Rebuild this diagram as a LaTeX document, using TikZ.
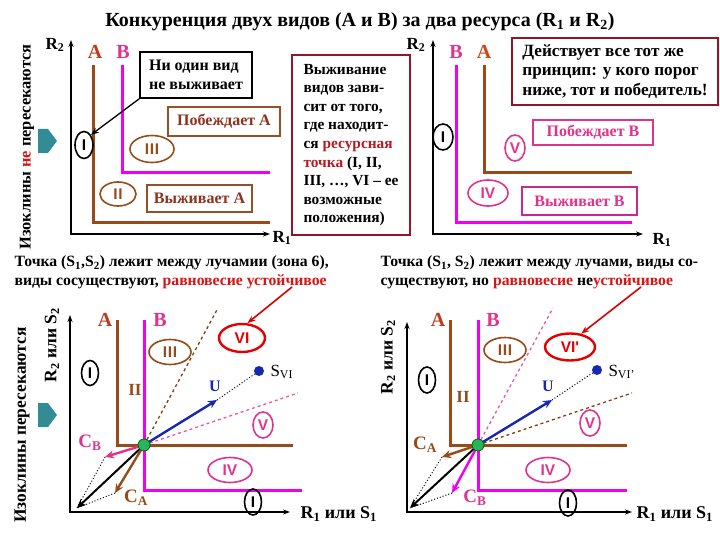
\documentclass[tikz,border=0pt]{standalone}
\usepackage{fontspec}
\setmainfont{Liberation Serif}
\newfontfamily\numfont{Liberation Sans}
\usetikzlibrary{arrows.meta,shapes.geometric}
\newcommand\myfs[2]{\fontsize{#1}{#2}\selectfont}
\newcommand\kI{\kern0.7pt}
\definecolor{isoA}{RGB}{150,75,25}
\definecolor{isoB}{RGB}{240,0,240}
\definecolor{labA}{RGB}{190,60,30}
\definecolor{labB}{RGB}{225,50,140}
\definecolor{darkred}{RGB}{150,20,40}
\definecolor{darkredtxt}{RGB}{185,25,35}
\definecolor{redtxt}{RGB}{215,20,20}
\definecolor{tealarrow}{RGB}{50,140,150}
\definecolor{blueU}{RGB}{20,40,180}
\definecolor{greendot}{RGB}{40,180,90}
\definecolor{boxbrown}{RGB}{150,80,40}
\definecolor{txtbrown}{RGB}{140,50,30}
\begin{document}
\begin{tikzpicture}[x=1pt,y=-1pt,
  axis/.style={line width=1.6pt,{Stealth[length=7pt,width=5pt]}-{Stealth[length=7pt,width=5pt]}},
  isoa/.style={isoA,line width=3pt},
  isob/.style={isoB,line width=3pt},
  zone/.style={ellipse,draw,line width=1.6pt,inner sep=0pt,font=\numfont\bfseries\myfs{15.5}{15}},
  tbox/.style={draw,rectangle,inner sep=0pt,align=left,font=\bfseries\myfs{16}{19}},
  biglab/.style={font=\bfseries\myfs{20}{20}},
  rlab/.style={font=\bfseries\myfs{17}{17}},
  captxt/.style={anchor=west,font=\bfseries\myfs{15.7}{17}},
  side/.style={rotate=90,font=\bfseries\myfs{16.4}{16}},
  thickarrow/.style={line width=2.4pt,-{Stealth[length=9pt,width=8pt]}},
  dotline/.style={black,line width=1pt,dotted},
  redarrow/.style={red!85!black,line width=1.6pt,-{Stealth[length=8pt,width=6pt]}},
  numtxt/.style={font=\bfseries\myfs{17}{17}}
]
\useasboundingbox (0,0) rectangle (720,540);

% title and side texts
\node[font=\bfseries\myfs{20}{22}] (title) at (360,22) {Конкуренция двух видов (А и В) за два ресурса (R\textsubscript{1} и R\textsubscript{2})};
\node[side] (side1) at (27,147) {Изоклины \textcolor{redtxt}{не} пересекаются};
\node[side,font=\bfseries\myfs{17.4}{17}] (side2) at (22,425) {Изоклины пересекаются};
\fill[tealarrow] (38,129) -- (48,129) -- (57,141) -- (48,153) -- (38,153) -- cycle;
\fill[tealarrow] (38,403) -- (48,403) -- (57,415) -- (48,427) -- (38,427) -- cycle;

% ===== top-left panel =====
\draw[axis] (71,40) -- (71,234) -- (270,234);
\node[rlab] (tlR2) at (55,45) {R\textsubscript{2}};
\node[rlab] (tlR1) at (282,238) {R\textsubscript{1}};
\draw[isoa] (93,65) -- (93,223) -- (270,223);
\draw[isob] (122,65) -- (122,173) -- (270,173);
\node[biglab,labA] (tlA) at (95,52) {А};
\node[biglab,labB] (tlB) at (123,52) {В};
\node[zone,draw=black,minimum width=18pt,minimum height=27pt] (tlI) at (84,145) {I};
\node[zone,draw=isoA,text=isoA,minimum width=44pt,minimum height=27pt] (tlIII) at (152,149) {I\kI I\kI I};
\node[zone,draw=isoA,text=isoA,minimum width=36pt,minimum height=24pt] (tlII) at (118,194) {I\kI I};
\node[tbox,draw=black,line width=1.6pt,minimum width=112pt,minimum height=46pt] (tlnone) at (196,75) {Ни один вид\\не выживает};
\node[tbox,draw=boxbrown,text=txtbrown,line width=1.4pt,minimum width=112pt,minimum height=29pt] (tlwin) at (224,121.5) {Побеждает А};
\node[tbox,draw=boxbrown,text=txtbrown,line width=1.4pt,minimum width=105pt,minimum height=27pt] (tlsurv) at (199.5,198.5) {Выживает А};
\draw[line width=1.3pt,-{Stealth[length=8pt,width=6pt]}] (tlnone.south west) -- (tlI.north east);

% middle note
\node[tbox,draw=darkred,line width=1.8pt,minimum width=118pt,minimum height=180pt,font=\bfseries\myfs{15.4}{18.6}] (mid) at (351,145)
 {Выживание\\видов зави-\\сит от того,\\где находит-\\ся \textcolor{darkredtxt}{ресурсная}\\\textcolor{darkredtxt}{точка} (I, II,\\III, …, VI – ее\\возможные\\положения)};

% ===== top-right panel =====
\draw[axis] (433,40) -- (433,234) -- (643,234);
\node[rlab] (trR2) at (416,45) {R\textsubscript{2}};
\node[rlab] (trR1) at (662,240) {R\textsubscript{1}};
\draw[isob] (456,65) -- (456,223) -- (632,223);
\draw[isoa] (484,65) -- (484,173) -- (632,173);
\node[biglab,labB] (trB) at (456,52) {В};
\node[biglab,labA!80!orange] (trA) at (484,52) {А};
\node[tbox,draw=darkred,line width=2pt,minimum width=206pt,minimum height=67pt,font=\bfseries\myfs{17.2}{19.5}] (trnote) at (615,71.5) {Действует все тот же\\принцип: у кого порог\\ниже, тот и победитель!};
\node[zone,draw=black,minimum width=20pt,minimum height=26pt] (trI) at (443,137) {I};
\node[zone,draw=labB,text=labB,minimum width=20pt,minimum height=26pt] (trV) at (515,148) {V};
\node[zone,draw=labB,text=labB,minimum width=40pt,minimum height=26pt] (trIV) at (488,193) {IV};
\node[tbox,draw=labB,text=labB,line width=1.4pt,minimum width=120pt,minimum height=25pt] (trwin) at (593,132.5) {Побеждает В};
\node[tbox,draw=labB!80!violet,text=labB,line width=1.4pt,minimum width=115pt,minimum height=28pt] (trsurv) at (579.5,201) {Выживает В};

% captions
\node[captxt] (cap1a) at (11,263) {Точка (S\textsubscript{1},S\textsubscript{2}) лежит между лучамии (зона 6),};
\node[captxt] (cap1b) at (11,282) {виды сосуществуют, \textcolor{redtxt}{равновесие устойчивое}};
\node[captxt] (cap2a) at (377,263) {Точка (S\textsubscript{1}, S\textsubscript{2}) лежит между лучами, виды со-};
\node[captxt] (cap2b) at (377,282) {существуют, но \textcolor{redtxt}{равновесие} не\textcolor{redtxt}{устойчивое}};
\coordinate (r1) at (292,287);
\coordinate (r2) at (641,287);

% ===== bottom-left panel =====
\draw[axis] (70,315) -- (70,512) -- (290,512);
\node[side,font=\bfseries\myfs{17.5}{17}] (blR2) at (52,345) {R\textsubscript{2} или S\textsubscript{2}};
\node[rlab,font=\myfs{18}{18}\bfseries,anchor=west] (blR1) at (297,514) {R\textsubscript{1} или S\textsubscript{1}};
\draw[isoa] (117,320) -- (117,445) -- (293,445);
\draw[isob] (144,320) -- (144,490) -- (302,490);
\node[biglab,labA] (blA) at (105,320) {А};
\node[biglab,labB] (blB) at (160,320) {В};
\coordinate (blP) at (144,445);
\coordinate (blUt) at (217,400);
\coordinate (blCBt) at (105,457);
\coordinate (blCAt) at (115,493);
\coordinate (blKt) at (77,508);
\coordinate (blD1) at (218,308);
\coordinate (blD2) at (298,393);
\draw[isoA!85!black,line width=1.3pt,dashed] (blP) -- (blD1);
\draw[labB!80!white,line width=1.3pt,dashed] (blP) -- (blD2);
\node[zone,draw=black,minimum width=17pt,minimum height=25pt] (blI) at (90,373) {I};
\node[numtxt,isoA] (blII) at (135,390) {II};
\node[zone,draw=isoA,text=isoA,minimum width=42pt,minimum height=25pt] (blIII) at (170,352) {I\kI I\kI I};
\node[zone,draw=red!90!black,text=red!90!black,line width=2.4pt,minimum width=46pt,minimum height=28pt] (blVI) at (242,338) {VI};
\node[zone,draw=labB,text=labB,minimum width=20pt,minimum height=26pt] (blV) at (263,425) {V};
\node[zone,draw=labB,text=labB,minimum width=44pt,minimum height=25pt] (blIV) at (230,470) {IV};
\node[zone,draw=black,minimum width=17pt,minimum height=26pt] (blI2) at (253,502) {I};
\node[circle,fill=blueU,inner sep=0pt,minimum size=10pt] (blS) at (259,371) {};
\node[font=\myfs{17}{17},anchor=west] (blSl) at (267,372) {S\textsubscript{VI}};
\draw[dotline] (blUt) -- (blS);
\draw[thickarrow,blueU] (blP) -- (blUt);
\node[font=\bfseries\myfs{16}{16},blueU] (blU) at (215,386) {U};
\draw[dotline] (blCBt) -- (blKt);
\draw[dotline] (blCAt) -- (blKt);
\draw[thickarrow,black,line width=2pt] (blP) -- (blKt);
\draw[thickarrow,labB] (blP) -- (blCBt);
\draw[thickarrow,isoA] (blP) -- (blCAt);
\node[font=\bfseries\myfs{19}{19},labB] (blCB) at (90,443) {C\textsubscript{B}};
\node[font=\bfseries\myfs{19}{19},isoA] (blCA) at (136,498) {C\textsubscript{A}};
\node[circle,fill=greendot,draw=green!40!black,line width=0.8pt,inner sep=0pt,minimum size=12pt] (blG) at (blP) {};
\draw[redarrow] (r1) -- (blVI.70);

% ===== bottom-right panel =====
\draw[axis] (407,322) -- (407,512) -- (632,512);
\node[side,font=\bfseries\myfs{17.5}{17}] (brR2) at (388,357) {R\textsubscript{2} или S\textsubscript{2}};
\node[rlab,font=\myfs{18}{18}\bfseries,anchor=west] (brR1) at (633,514) {R\textsubscript{1} или S\textsubscript{1}};
\draw[isoa] (450,320) -- (450,445) -- (627,445);
\draw[isob] (478,320) -- (478,490) -- (627,490);
\node[biglab,labA] (brA) at (438,320) {А};
\node[biglab,labB] (brB) at (493,320) {В};
\coordinate (brP) at (478,445);
\coordinate (brUt) at (552,400);
\coordinate (brCAt) at (442,457);
\coordinate (brCBt) at (452,493);
\coordinate (brKt) at (410,508);
\coordinate (brD1) at (553,308);
\coordinate (brD2) at (632,393);
\draw[labB!80!white,line width=1.3pt,dashed] (brP) -- (brD1);
\draw[isoA!85!black,line width=1.3pt,dashed] (brP) -- (brD2);
\node[zone,draw=black,minimum width=17pt,minimum height=26pt] (brI) at (427,380) {I};
\node[numtxt,isoA] (brII) at (463,397) {II};
\node[zone,draw=isoA,text=isoA,minimum width=42pt,minimum height=25pt] (brIII) at (505,350) {I\kI I\kI I};
\node[zone,draw=red!90!black,text=red!90!black,line width=2.4pt,minimum width=50pt,minimum height=27pt] (brVI) at (570,347) {VI'};
\node[zone,draw=labB,text=labB,minimum width=20pt,minimum height=26pt] (brV) at (590,423) {V};
\node[zone,draw=labB,text=labB,minimum width=44pt,minimum height=25pt] (brIV) at (548,470) {IV};
\node[zone,draw=black,minimum width=17pt,minimum height=26pt] (brI2) at (568,503) {I};
\node[circle,fill=blueU,inner sep=0pt,minimum size=10pt] (brS) at (597,370) {};
\node[font=\myfs{17}{17},anchor=west] (brSl) at (605,372) {S\textsubscript{VI'}};
\draw[dotline] (brUt) -- (brS);
\draw[thickarrow,blueU] (brP) -- (brUt);
\node[font=\bfseries\myfs{16}{16},blueU] (brU) at (548,386) {U};
\draw[dotline] (brCAt) -- (brKt);
\draw[dotline] (brCBt) -- (brKt);
\draw[thickarrow,black,line width=2pt] (brP) -- (brKt);
\draw[thickarrow,isoA] (brP) -- (brCAt);
\draw[thickarrow,isoB] (brP) -- (brCBt);
\node[font=\bfseries\myfs{19}{19},isoA] (brCA) at (425,445) {C\textsubscript{A}};
\node[font=\bfseries\myfs{19}{19},labB] (brCB) at (475,498) {C\textsubscript{B}};
\node[circle,fill=greendot,draw=green!40!black,line width=0.8pt,inner sep=0pt,minimum size=12pt] (brG) at (brP) {};
\draw[redarrow] (r2) -- (brVI.50);
\end{tikzpicture}
\end{document}
